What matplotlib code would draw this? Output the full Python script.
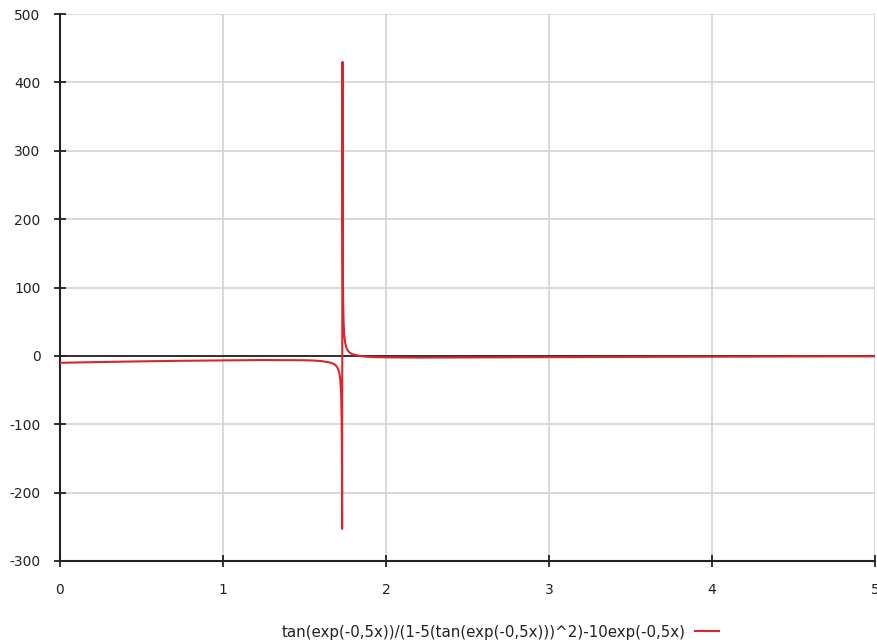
import matplotlib
matplotlib.use("Agg")
import matplotlib.pyplot as plt

plt.rcParams["axes.unicode_minus"] = False

# Values
x_vals = [0.0, 0.1, 0.25, 0.5, 0.75, 1.0, 1.25, 1.5, 1.55, 1.6, 1.65, 1.68, 1.69, 1.7, 1.71, 1.715, 1.72,
          1.725, 1.728, 1.730, 1.7309,
          1.7334, 1.7335, 1.734, 1.735, 1.736, 1.737, 1.74, 1.742, 1.745, 1.75, 1.76, 1.77, 1.78, 1.8,
          1.85, 1.9, 1.95, 2.0, 2.2, 2.5, 3.0, 3.5, 4.0, 4.5, 5.0]
y_vals = [-10.1, -9.7, -9.0, -8.0, -7.2, -6.6, -6.1, -6.4, -6.75, -7.5, -9.3, -11.8, -13.6, -16.3, -21.9, -26.8, -35.9,
          -57, -92, -163, -253,
          430, 392, 260, 154, 109, 84, 49, 37.5, 27.5, 18.5, 10.3, 6.4, 4.3, 1.9,
          -0.6, -1.5, -1.9, -2.2, -2.5, -2.3, -1.9, -1.5, -1.2, -0.9, -0.7]
x_ticks = [0, 1, 2, 3, 4, 5]
y_ticks = [-300, -200, -100, 0, 100, 200, 300, 400, 500]
legend_label = "tan(exp(-0,5x))/(1-5(tan(exp(-0,5x)))^2)-10exp(-0,5x)"

fig = plt.figure(figsize=(8.78, 6.44), dpi=100)
ax = fig.add_axes([60/878, 83/644, 815/878, 547/644])

ax.set_xlim(0, 5)
ax.set_ylim(-300, 500)
ax.set_xticks(x_ticks)
ax.set_yticks(y_ticks)
ax.grid(True, color="#d3d3d3", linewidth=1.2)
ax.set_axisbelow(True)
ax.axhline(0, color="#222222", linewidth=1.3, zorder=2)

line, = ax.plot(x_vals, y_vals, color="#d9262b", linewidth=1.5, zorder=3, label=legend_label)

for s in ["top", "right"]:
    ax.spines[s].set_visible(False)
for s in ["left", "bottom"]:
    ax.spines[s].set_color("#222222")
    ax.spines[s].set_linewidth(1.5)
ax.tick_params(axis="both", direction="inout", length=8, width=1.3, color="#222222",
               labelsize=10, labelcolor="#222222")
ax.tick_params(axis="x", pad=12)
ax.tick_params(axis="y", pad=10)

fig.legend(handles=[line], loc="center", bbox_to_anchor=(500/878, 12/644), frameon=False,
           markerfirst=False, fontsize=10.8, handlelength=1.6, handletextpad=0.6,
           labelcolor="#222222")

fig.savefig("out.png", dpi=100)
